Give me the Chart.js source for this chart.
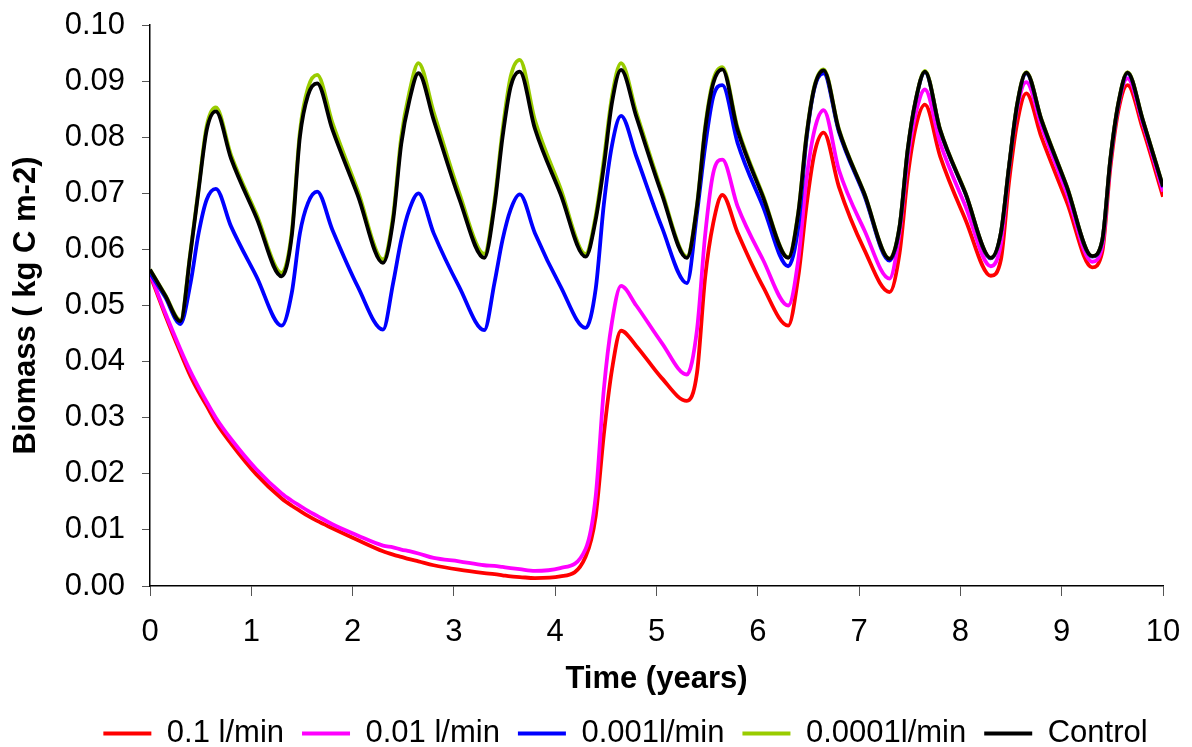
<!DOCTYPE html>
<html>
<head>
<meta charset="utf-8">
<title>Biomass</title>
<script src="https://cdn.jsdelivr.net/npm/chart.js@4.4.1/dist/chart.umd.min.js"></script>
<style>
    body { margin: 0; background: #fff; }
    #wrap { width: 1192px; height: 747px; }
</style>
</head>
<body>
<div id="wrap"><canvas id="biomassChart" width="1192" height="747"></canvas></div>
<script>
// --- Data (time in years, biomass in kg C m-2) ---
const years = [0, 0.15,
    0.3, 0.4, 0.48, 0.56, 0.65, 0.8, 1.05,
    1.3, 1.4, 1.48, 1.56, 1.65, 1.8, 2.05,
    2.3, 2.4, 2.48, 2.56, 2.65, 2.8, 3.05,
    3.3, 3.4, 3.48, 3.56, 3.65, 3.8, 4.05,
    4.3, 4.4, 4.48, 4.56, 4.65, 4.8, 5.05,
    5.3, 5.4, 5.48, 5.56, 5.65, 5.8, 6.05,
    6.3, 6.4, 6.48, 6.56, 6.65, 6.8, 7.05,
    7.3, 7.4, 7.48, 7.56, 7.65, 7.8, 8.05,
    8.3, 8.4, 8.48, 8.56, 8.65, 8.8, 9.05,
    9.3, 9.4, 9.48, 9.56, 9.65, 9.8, 10];

const flow01 = [0.0555, 0.0483,
    0.0416, 0.0374, 0.0346, 0.0321, 0.0292, 0.0254, 0.0199,
    0.0156, 0.0143, 0.0134, 0.0125, 0.0116, 0.0103, 0.0082,
    0.0062, 0.0056, 0.0052, 0.0048, 0.0044, 0.0037, 0.0029,
    0.0023, 0.0021, 0.0019, 0.0017, 0.0016, 0.0014, 0.0017,
    0.0052, 0.0125, 0.0270, 0.0385, 0.0455, 0.0428, 0.0371,
    0.0330, 0.0380, 0.0550, 0.0647, 0.0697, 0.0630, 0.0534,
    0.0464, 0.0552, 0.0677, 0.0772, 0.0808, 0.0712, 0.0600,
    0.0524, 0.0594, 0.0730, 0.0819, 0.0858, 0.0766, 0.0653,
    0.0553, 0.0582, 0.0720, 0.0825, 0.0878, 0.0800, 0.0685,
    0.0568, 0.0595, 0.0745, 0.0848, 0.0893, 0.0815, 0.0694];

const flow001 = [0.0558, 0.0487,
    0.0422, 0.0382, 0.0354, 0.0328, 0.0300, 0.0262, 0.0208,
    0.0165, 0.0152, 0.0143, 0.0134, 0.0125, 0.0110, 0.0090,
    0.0072, 0.0069, 0.0065, 0.0062, 0.0058, 0.0050, 0.0044,
    0.0037, 0.0036, 0.0034, 0.0032, 0.0030, 0.0027, 0.0032,
    0.0066, 0.0160, 0.0350, 0.0470, 0.0535, 0.0500, 0.0434,
    0.0377, 0.0457, 0.0625, 0.0736, 0.0760, 0.0677, 0.0582,
    0.0500, 0.0582, 0.0724, 0.0813, 0.0848, 0.0742, 0.0635,
    0.0548, 0.0630, 0.0760, 0.0843, 0.0885, 0.0790, 0.0677,
    0.0570, 0.0610, 0.0745, 0.0850, 0.0898, 0.0820, 0.0700,
    0.0578, 0.0605, 0.0755, 0.0857, 0.0905, 0.0825, 0.0703];

const flow0001 = [0.0558, 0.0515,
    0.0467, 0.0540, 0.0629, 0.0689, 0.0708, 0.0641, 0.0552,
    0.0464, 0.0523, 0.0629, 0.0683, 0.0703, 0.0635, 0.0534,
    0.0457, 0.0540, 0.0617, 0.0671, 0.0700, 0.0629, 0.0534,
    0.0456, 0.0540, 0.0617, 0.0671, 0.0698, 0.0629, 0.0535,
    0.0460, 0.0530, 0.0680, 0.0785, 0.0838, 0.0766, 0.0641,
    0.0540, 0.0665, 0.0783, 0.0872, 0.0893, 0.0790, 0.0677,
    0.0570, 0.0641, 0.0795, 0.0888, 0.0914, 0.0810, 0.0697,
    0.0580, 0.0640, 0.0776, 0.0866, 0.0916, 0.0812, 0.0699,
    0.0584, 0.0629, 0.0747, 0.0857, 0.0914, 0.0830, 0.0711,
    0.0587, 0.0615, 0.0759, 0.0860, 0.0914, 0.0830, 0.0711];

const flow00001 = [0.0564, 0.0519,
    0.0474, 0.0597, 0.0710, 0.0820, 0.0853, 0.0768, 0.0663,
    0.0558, 0.0632, 0.0810, 0.0888, 0.0911, 0.0826, 0.0705,
    0.0582, 0.0660, 0.0800, 0.0880, 0.0932, 0.0845, 0.0702,
    0.0592, 0.0685, 0.0812, 0.0908, 0.0938, 0.0830, 0.0710,
    0.0592, 0.0660, 0.0760, 0.0872, 0.0932, 0.0845, 0.0705,
    0.0587, 0.0680, 0.0818, 0.0902, 0.0925, 0.0817, 0.0697,
    0.0586, 0.0667, 0.0803, 0.0892, 0.0921, 0.0815, 0.0701,
    0.0584, 0.0642, 0.0779, 0.0868, 0.0918, 0.0814, 0.0701,
    0.0585, 0.0630, 0.0749, 0.0859, 0.0916, 0.0832, 0.0713,
    0.0588, 0.0616, 0.0761, 0.0862, 0.0916, 0.0832, 0.0713];

const control = [0.0564, 0.0518,
    0.0472, 0.0594, 0.0706, 0.0813, 0.0846, 0.0762, 0.0657,
    0.0552, 0.0625, 0.0801, 0.0875, 0.0896, 0.0814, 0.0697,
    0.0576, 0.0652, 0.0788, 0.0865, 0.0914, 0.0831, 0.0692,
    0.0585, 0.0677, 0.0800, 0.0890, 0.0917, 0.0815, 0.0700,
    0.0587, 0.0653, 0.0748, 0.0861, 0.0920, 0.0837, 0.0700,
    0.0585, 0.0677, 0.0813, 0.0896, 0.0921, 0.0813, 0.0694,
    0.0585, 0.0665, 0.0801, 0.0890, 0.0919, 0.0813, 0.0700,
    0.0583, 0.0641, 0.0778, 0.0867, 0.0917, 0.0813, 0.0700,
    0.0585, 0.0630, 0.0748, 0.0858, 0.0915, 0.0831, 0.0712,
    0.0588, 0.0616, 0.0760, 0.0861, 0.0915, 0.0831, 0.0712];

const seriesNames = ['0.1 l/min', '0.01 l/min', '0.001l/min', '0.0001l/min', 'Control'];
const seriesColors = ['#ff0000', '#ff00ff', '#0000ff', '#99cc00', '#000000'];
const seriesValues = [flow01, flow001, flow0001, flow00001, control];

const FONT = "'Liberation Sans', Arial, sans-serif";
Chart.defaults.color = '#000';
Chart.defaults.font.family = FONT;

function toPoints(values) {
    return values.map((v, i) => ({ x: years[i], y: v }));
}

// later series sit on top (black Control drawn last)
const datasets = seriesValues.map((vals, i) => ({
    label: seriesNames[i],
    data: toPoints(vals),
    borderColor: seriesColors[i],
    backgroundColor: seriesColors[i],
    borderWidth: 3.8,
    pointRadius: 0,
    cubicInterpolationMode: 'monotone',
    order: seriesValues.length - i
}));

// nudge the legend row so it sits where the original has it
const legendShift = {
    id: 'legendShift',
    afterLayout(chart) {
        const lg = chart.legend;
        lg.left += 44; lg.right += 44;
        lg.top += 12; lg.bottom += 12;
    }
};

const ctx = document.getElementById('biomassChart').getContext('2d');
new Chart(ctx, {
    type: 'line',
    data: { datasets: datasets },
    plugins: [legendShift],
    options: {
        responsive: false,
        animation: false,
        layout: { padding: { left: 0, right: 29, top: 25, bottom: 0 } },
        plugins: {
            tooltip: { enabled: false },
            legend: {
                position: 'bottom',
                labels: {
                    usePointStyle: true,
                    pointStyle: 'line',
                    pointStyleWidth: 48,
                    padding: 18,
                    font: { size: 31 },
                    color: '#000',
                    sort: (a, b) => a.datasetIndex - b.datasetIndex
                }
            }
        },
        scales: {
            x: {
                type: 'linear',
                min: 0,
                max: 10,
                afterFit: s => { s.height = 102; s.paddingLeft = 0; s.paddingRight = 0; },
                border: { color: '#000', width: 1.5 },
                grid: { drawOnChartArea: false, drawTicks: true, tickLength: 10, color: '#555' },
                ticks: { stepSize: 1, padding: 18, font: { size: 31 }, maxRotation: 0 },
                title: {
                    display: true,
                    text: 'Time (years)',
                    font: { size: 31, weight: 'bold', lineHeight: 0.8 },
                    padding: { top: 0, bottom: -4 }
                }
            },
            y: {
                min: 0,
                max: 0.1,
                afterFit: s => { s.width = 150; s.paddingTop = 0; s.paddingBottom = 0; },
                border: { color: '#000', width: 1.5 },
                grid: { drawOnChartArea: false, drawTicks: true, tickLength: 8, color: '#555' },
                ticks: { stepSize: 0.01, padding: 17, font: { size: 31 }, callback: v => v.toFixed(2) },
                title: {
                    display: true,
                    text: 'Biomass ( kg C m-2)',
                    font: { size: 31, weight: 'bold' },
                    padding: { top: 8, bottom: 0 }
                }
            }
        }
    }
});
</script>
</body>
</html>
